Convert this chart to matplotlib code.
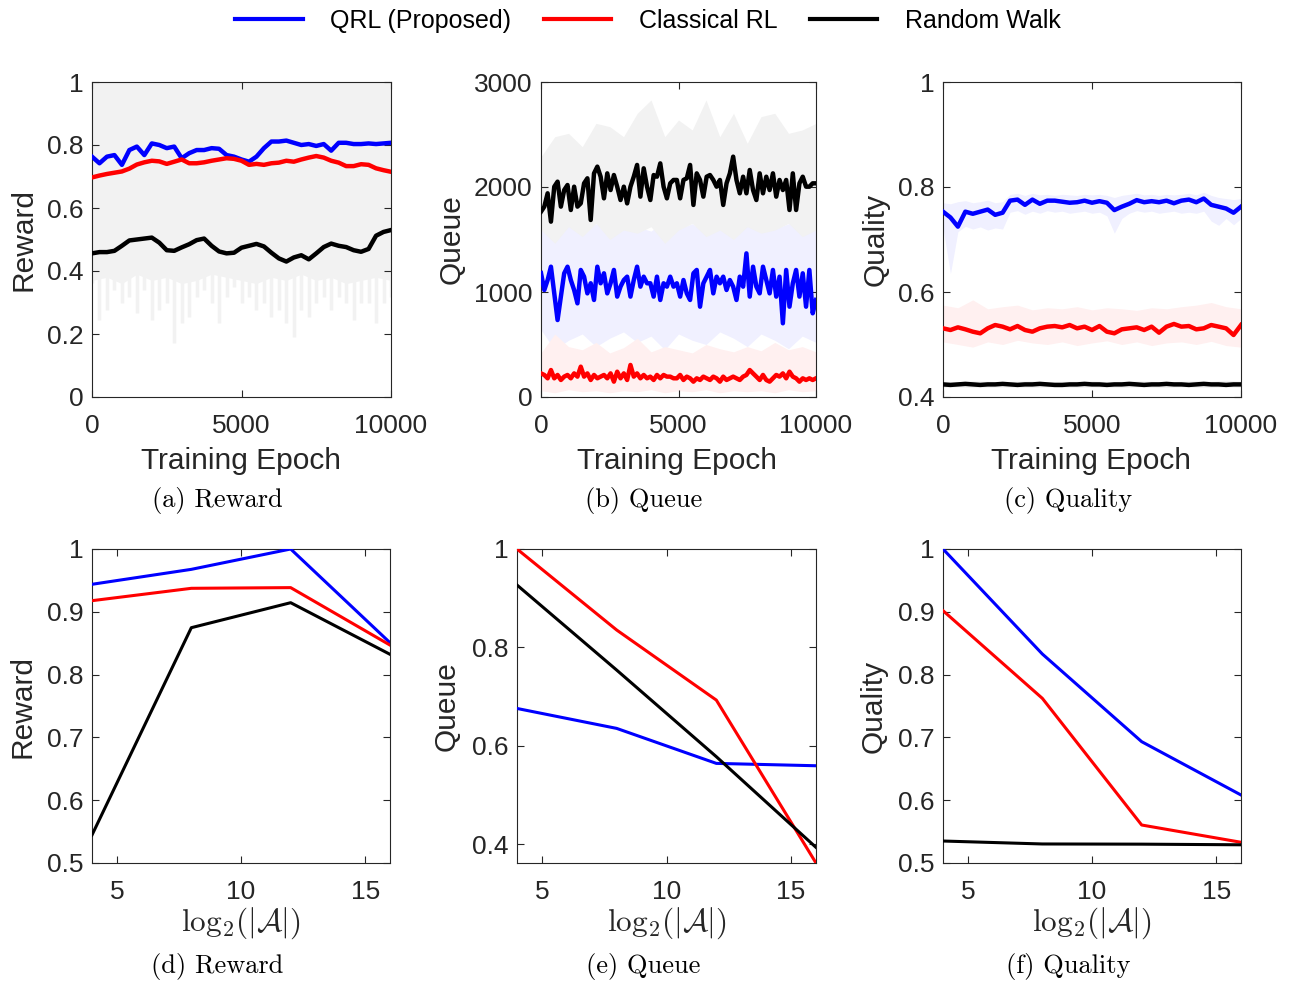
import numpy as np
import matplotlib
matplotlib.use('Agg')
import matplotlib.pyplot as plt
from matplotlib.lines import Line2D

plt.rcParams['font.family'] = ['Liberation Sans', 'DejaVu Sans']
plt.rcParams['mathtext.fontset'] = 'cm'

# ---------------- data ----------------
series_names = ['QRL (Proposed)', 'Classical RL', 'Random Walk']
series_colors = ['#0000ff', '#ff0000', '#000000']
raw_colors = ['#f0f0ff', '#fff0f0', '#f2f2f2']

epoch_max = 10000

# (a) Reward vs training epoch (smoothed curves, 41 samples)
reward_qrl = [0.763, 0.742, 0.763, 0.768, 0.737, 0.784, 0.795, 0.768, 0.805, 0.800,
              0.790, 0.795, 0.758, 0.774, 0.784, 0.784, 0.790, 0.788, 0.768, 0.763,
              0.754, 0.747, 0.763, 0.790, 0.811, 0.811, 0.814, 0.807, 0.800, 0.803,
              0.797, 0.803, 0.782, 0.807, 0.807, 0.803, 0.803, 0.805, 0.803, 0.805, 0.807]
reward_crl = [0.697, 0.703, 0.708, 0.712, 0.716, 0.725, 0.738, 0.745, 0.750, 0.748,
              0.740, 0.747, 0.754, 0.742, 0.742, 0.745, 0.750, 0.754, 0.758, 0.756,
              0.750, 0.737, 0.740, 0.737, 0.742, 0.744, 0.750, 0.747, 0.754, 0.760,
              0.765, 0.760, 0.750, 0.744, 0.733, 0.733, 0.739, 0.737, 0.726, 0.720, 0.715]
reward_rw = [0.456, 0.460, 0.460, 0.464, 0.480, 0.497, 0.500, 0.503, 0.506, 0.490,
             0.466, 0.464, 0.475, 0.485, 0.498, 0.503, 0.480, 0.462, 0.456, 0.458,
             0.474, 0.480, 0.486, 0.478, 0.458, 0.440, 0.430, 0.443, 0.450, 0.437,
             0.456, 0.476, 0.487, 0.480, 0.476, 0.466, 0.461, 0.470, 0.512, 0.524, 0.530]
# raw (unsmoothed) reward cloud: lower edge of the dense part and the downward spikes
reward_raw_top = [1.0] * 21
reward_raw_base = [0.37, 0.38, 0.36, 0.39, 0.37, 0.38, 0.36, 0.37, 0.39, 0.38, 0.37,
                   0.36, 0.38, 0.37, 0.39, 0.37, 0.38, 0.36, 0.37, 0.38, 0.37]
reward_raw_spikes = [0.361, 0.244, 0.276, 0.340, 0.297, 0.319, 0.266, 0.340, 0.244, 0.276,
                     0.297, 0.170, 0.234, 0.255, 0.319, 0.340, 0.297, 0.234, 0.319, 0.350,
                     0.297, 0.319, 0.276, 0.297, 0.255, 0.276, 0.234, 0.192, 0.276, 0.255,
                     0.297, 0.319, 0.276, 0.319, 0.297, 0.244, 0.297, 0.297, 0.234, 0.297, 0.319]

# (b) Queue vs training epoch (smoothed curves, 84 samples)
queue_qrl = [1180, 1019, 1114, 1241, 987, 733, 956, 1178, 1241, 1114, 1019, 892, 1210, 1146,
             987, 1083, 924, 1241, 1083, 1178, 987, 1083, 1210, 956, 1051, 1114, 1146, 956,
             1114, 1241, 1051, 1146, 1083, 1083, 956, 1146, 924, 1083, 1051, 1146, 1051,
             1083, 956, 1114, 987, 924, 1178, 1210, 860, 1083, 1146, 1210, 987, 1146, 1083,
             1146, 1019, 1114, 1051, 924, 1146, 1051, 1368, 956, 1241, 1051, 987, 1241, 1114,
             987, 1210, 956, 1146, 702, 1210, 860, 1083, 1210, 956, 1178, 860, 1210, 797, 924]
queue_crl = [225, 210, 178, 257, 178, 210, 162, 194, 210, 178, 225, 194, 289, 194, 225, 162,
             210, 178, 194, 210, 178, 225, 146, 241, 178, 225, 162, 305, 194, 225, 178, 210,
             178, 194, 162, 210, 178, 210, 194, 194, 178,
             178, 210, 162, 194, 178, 146, 178, 162, 194, 178, 162, 194, 178, 146, 194, 162,
             178, 194, 178, 162, 194, 210, 257, 225, 194, 162, 210, 162, 146, 178, 210, 194,
             225, 178, 241, 194, 178, 146, 178, 162, 178, 162, 178]
queue_rw = [1765, 1813, 1940, 1670, 2003, 2051, 1813, 1971, 2019, 1781, 2003, 1813, 1844, 2035,
            2083, 1686, 2130, 2194, 2098, 1892, 2130, 1971, 2114, 2003, 1876, 2003, 1844, 2003,
            2098, 2210, 1908, 2178, 2003, 1876, 2114, 2098, 2225, 2003, 1892, 2035, 2067,
            2067, 1892, 2067, 2083, 2210, 1829, 2130, 2067, 1908, 2098, 2114, 2067, 2003, 2067,
            1829, 2035, 2130, 2289, 2067, 1940, 2098, 1940, 2162, 1971, 1876, 2130, 1940, 2098,
            1971, 2130, 1908, 2067, 1971, 2067, 1781, 2130, 1781, 2035, 2098, 2003, 2003, 2035, 2035]
# raw clouds (upper / lower edges, 21 samples)
queue_raw_qrl_hi = [1650, 1600, 1700, 1560, 1650, 1600, 1700, 1620, 1580, 1680, 1600,
                    1650, 1560, 1700, 1620, 1650, 1750, 1600, 1650, 1700, 1600]
queue_raw_qrl_lo = [640, 450, 540, 600, 480, 560, 620, 520, 580, 450, 600,
                    540, 500, 620, 560, 480, 600, 540, 460, 580, 520]
queue_raw_crl_hi = [420, 600, 480, 450, 520, 420, 470, 560, 430, 480, 450,
                    420, 500, 460, 430, 480, 440, 520, 450, 480, 430]
queue_raw_crl_lo = [60, 40, 70, 50, 60, 40, 60, 50, 70, 40, 60,
                    50, 70, 40, 60, 50, 60, 40, 70, 50, 60]
queue_raw_rw_hi = [2289, 2479, 2511, 2384, 2606, 2575, 2479, 2702, 2829, 2479, 2638,
                   2543, 2829, 2479, 2702, 2416, 2670, 2702, 2511, 2543, 2606]
queue_raw_rw_lo = [1590, 1464, 1622, 1527, 1654, 1500, 1590, 1560, 1622, 1464, 1590,
                   1654, 1527, 1590, 1500, 1622, 1560, 1590, 1654, 1527, 1590]

# (c) Quality vs training epoch (smoothed curves, 41 samples)
quality_qrl = [0.753, 0.742, 0.7245, 0.753, 0.749, 0.753, 0.757, 0.747, 0.751, 0.774,
               0.776, 0.766, 0.776, 0.768, 0.774, 0.774, 0.772, 0.770, 0.771, 0.774,
               0.770, 0.773, 0.770, 0.756, 0.7625, 0.768, 0.775, 0.771, 0.773, 0.771,
               0.774, 0.769, 0.774, 0.776, 0.771, 0.778, 0.766, 0.7625, 0.759, 0.751, 0.7625]
quality_crl = [0.5308, 0.5276, 0.5327, 0.5289, 0.5244, 0.5213, 0.5308, 0.5371, 0.5340, 0.5289,
               0.5352, 0.5276, 0.5244, 0.5308, 0.5340, 0.5352, 0.5327, 0.5371, 0.5308, 0.5340,
               0.5276, 0.5352, 0.5244, 0.5213, 0.5289, 0.5308, 0.5327, 0.5276, 0.5340, 0.5225,
               0.5340, 0.5391, 0.5340, 0.5352, 0.5289, 0.5308, 0.5371, 0.5340, 0.5308, 0.5181, 0.5371]
quality_rw = [0.424, 0.423, 0.424, 0.425, 0.424, 0.423, 0.424, 0.424, 0.425, 0.424,
              0.423, 0.424, 0.424, 0.425, 0.424, 0.423, 0.423, 0.424, 0.424, 0.425,
              0.424, 0.424, 0.423, 0.424, 0.424, 0.425, 0.424, 0.423, 0.424, 0.424,
              0.425, 0.424, 0.424, 0.423, 0.424, 0.425, 0.424, 0.424, 0.423, 0.424, 0.424]
quality_raw_qrl_hi = [0.770, 0.768, 0.772, 0.774, 0.770, 0.772, 0.775, 0.770, 0.772, 0.786,
                      0.788, 0.784, 0.788, 0.785, 0.786, 0.784, 0.786, 0.785, 0.784, 0.786,
                      0.785, 0.786, 0.784, 0.780, 0.784, 0.786, 0.788, 0.785, 0.786, 0.784,
                      0.786, 0.785, 0.786, 0.788, 0.785, 0.790, 0.784, 0.780, 0.778, 0.776, 0.778]
quality_raw_qrl_lo = [0.722, 0.635, 0.715, 0.725, 0.720, 0.724, 0.718, 0.722, 0.720, 0.752,
                      0.755, 0.748, 0.754, 0.750, 0.755, 0.752, 0.754, 0.750, 0.752, 0.754,
                      0.750, 0.752, 0.745, 0.712, 0.740, 0.750, 0.755, 0.752, 0.754, 0.750,
                      0.752, 0.754, 0.750, 0.752, 0.750, 0.754, 0.735, 0.727, 0.740, 0.728, 0.740]
quality_raw_crl_hi = [0.575, 0.570, 0.585, 0.568, 0.572, 0.575, 0.566, 0.570, 0.568, 0.572, 0.566,
                      0.570, 0.568, 0.565, 0.570, 0.568, 0.572, 0.575, 0.580, 0.572, 0.568]
quality_raw_crl_lo = [0.505, 0.500, 0.495, 0.505, 0.500, 0.508, 0.503, 0.500, 0.505, 0.498, 0.503,
                      0.507, 0.500, 0.505, 0.498, 0.503, 0.505, 0.500, 0.506, 0.498, 0.495]
quality_raw_rw_hi = [0.430, 0.429, 0.431, 0.430, 0.429, 0.430, 0.431, 0.429, 0.430, 0.430, 0.431,
                     0.429, 0.430, 0.431, 0.430, 0.429, 0.430, 0.431, 0.430, 0.432, 0.430]
quality_raw_rw_lo = [0.418, 0.419, 0.418, 0.418, 0.419, 0.418, 0.418, 0.419, 0.418, 0.418, 0.419,
                     0.418, 0.418, 0.419, 0.418, 0.418, 0.419, 0.418, 0.418, 0.419, 0.418]

# (d)-(f) vs log2(|A|)
log_actions = [4, 8, 12, 16]
reward_vs_a = {'qrl': [0.9438, 0.9676, 1.0, 0.8508],
               'crl': [0.9177, 0.9374, 0.9385, 0.847],
               'rw': [0.5446, 0.8747, 0.9145, 0.8323]}
queue_vs_a = {'qrl': [0.676, 0.6355, 0.5644, 0.5596],
              'crl': [1.0, 0.8354, 0.693, 0.362],
              'rw': [0.9268, 0.754, 0.578, 0.3937]}
quality_vs_a = {'qrl': [1.0, 0.8328, 0.6932, 0.6083],
                'crl': [0.9018, 0.7622, 0.5605, 0.533],
                'rw': [0.535, 0.5303, 0.530, 0.529]}

epoch_ticks = [0, 5000, 10000]
epoch_ticklabels = ['0', '5000', '10000']
action_ticks = [5, 10, 15]
action_ticklabels = ['5', '10', '15']

captions = ['(a) Reward', '(b) Queue', '(c) Quality', '(d) Reward', '(e) Queue', '(f) Quality']

# ---------------- figure ----------------
W, H = 1293, 983
fig = plt.figure(figsize=(W / 100, H / 100), dpi=100)
AX_COL = '#262626'
LAB_FS = 21.5


def px_axes(left, right, top, bottom):
    return fig.add_axes([left / W, 1 - bottom / H, (right - left) / W, (bottom - top) / H])


def style(ax, xt, xtl, yt, ytl):
    ax.set_xticks(xt)
    ax.set_xticklabels(xtl)
    ax.set_yticks(yt)
    ax.set_yticklabels(ytl)
    ax.tick_params(direction='in', length=5, width=0.8, top=True, right=True,
                   labelsize=19, colors=AX_COL)
    ax.tick_params(axis='x', pad=12)
    ax.tick_params(axis='y', pad=6)
    for s in ax.spines.values():
        s.set_color(AX_COL)
        s.set_linewidth(0.8)


def ylab(ax, text, x):
    ax.set_ylabel(text, fontsize=LAB_FS, color=AX_COL)
    ax.yaxis.set_label_coords(x, 0.5)


TOP_LW = 3.2
BOT_LW = 2.2

# (a)
ax = px_axes(92, 391, 82, 397)
e41 = np.linspace(0, epoch_max, len(reward_qrl))
e21 = np.linspace(0, epoch_max, len(reward_raw_base))
ax.vlines(e41, reward_raw_spikes, 0.45, color=raw_colors[2], lw=2.5, zorder=1)
ax.fill_between(e21, reward_raw_base, reward_raw_top, color=raw_colors[2], lw=0, zorder=1)
for ys, c in zip([reward_qrl, reward_crl, reward_rw], series_colors):
    ax.plot(e41, ys, color=c, lw=TOP_LW, zorder=3)
ax.set_xlim(0, epoch_max)
ax.set_ylim(0, 1)
style(ax, epoch_ticks, epoch_ticklabels, [0, 0.2, 0.4, 0.6, 0.8, 1.0],
      ['0', '0.2', '0.4', '0.6', '0.8', '1'])
ylab(ax, 'Reward', -0.182)
ax.set_xlabel('Training Epoch', fontsize=LAB_FS, color=AX_COL)
ax.xaxis.set_label_coords(0.498, -0.16)

# (b)
ax = px_axes(541, 816, 82, 397)
e84 = np.linspace(0, epoch_max, len(queue_qrl))
e21 = np.linspace(0, epoch_max, len(queue_raw_qrl_hi))
ax.fill_between(e21, queue_raw_qrl_lo, queue_raw_qrl_hi, color=raw_colors[0], lw=0, zorder=1)
ax.fill_between(e21, queue_raw_crl_lo, queue_raw_crl_hi, color=raw_colors[1], lw=0, zorder=1)
ax.fill_between(e21, queue_raw_rw_lo, queue_raw_rw_hi, color=raw_colors[2], lw=0, zorder=1)
for ys, c in zip([queue_qrl, queue_crl, queue_rw], series_colors):
    ax.plot(e84, ys, color=c, lw=TOP_LW, zorder=3)
ax.set_xlim(0, epoch_max)
ax.set_ylim(0, 3000)
style(ax, epoch_ticks, epoch_ticklabels, [0, 1000, 2000, 3000], ['0', '1000', '2000', '3000'])
ylab(ax, 'Queue', -0.275)
ax.set_xlabel('Training Epoch', fontsize=LAB_FS, color=AX_COL)
ax.xaxis.set_label_coords(0.496, -0.16)

# (c)
ax = px_axes(943, 1241, 82, 397)
e41 = np.linspace(0, epoch_max, len(quality_qrl))
e21 = np.linspace(0, epoch_max, len(quality_raw_crl_hi))
ax.fill_between(e41, quality_raw_qrl_lo, quality_raw_qrl_hi, color=raw_colors[0], lw=0, zorder=1)
ax.fill_between(e21, quality_raw_crl_lo, quality_raw_crl_hi, color=raw_colors[1], lw=0, zorder=1)
ax.fill_between(e21, quality_raw_rw_lo, quality_raw_rw_hi, color=raw_colors[2], lw=0, zorder=1)
for ys, c in zip([quality_qrl, quality_crl, quality_rw], series_colors):
    ax.plot(e41, ys, color=c, lw=TOP_LW, zorder=3)
ax.set_xlim(0, epoch_max)
ax.set_ylim(0.4, 1)
style(ax, epoch_ticks, epoch_ticklabels, [0.4, 0.6, 0.8, 1.0], ['0.4', '0.6', '0.8', '1'])
ylab(ax, 'Quality', -0.18)
ax.set_xlabel('Training Epoch', fontsize=LAB_FS, color=AX_COL)
ax.xaxis.set_label_coords(0.498, -0.16)

# bottom row
bottom_specs = [
    ((92, 390), reward_vs_a, (0.5, 1.0), [0.5, 0.6, 0.7, 0.8, 0.9, 1.0],
     ['0.5', '0.6', '0.7', '0.8', '0.9', '1'], 'Reward', -0.186),
    ((517, 816), queue_vs_a, (0.362, 1.0), [0.4, 0.6, 0.8, 1.0],
     ['0.4', '0.6', '0.8', '1'], 'Queue', -0.188),
    ((943, 1241), quality_vs_a, (0.5, 1.0), [0.5, 0.6, 0.7, 0.8, 0.9, 1.0],
     ['0.5', '0.6', '0.7', '0.8', '0.9', '1'], 'Quality', -0.187),
]
for (l, r), d, ylim, yt, ytl, lab, lx in bottom_specs:
    ax = px_axes(l, r, 549, 863)
    for key, c in zip(['qrl', 'crl', 'rw'], series_colors):
        ax.plot(log_actions, d[key], color=c, lw=BOT_LW, zorder=3)
    ax.set_xlim(4, 16)
    ax.set_ylim(*ylim)
    style(ax, action_ticks, action_ticklabels, yt, ytl)
    ylab(ax, lab, lx)
    ax.set_xlabel(r'$\mathrm{log}_2(|\mathcal{A}|)$', fontsize=22.5, color=AX_COL)
    ax.xaxis.set_label_coords(0.5, -0.135)

# captions
cap_pos = [(217.5, 500), (644, 500), (1068, 500), (217.5, 967), (643, 967), (1068, 967)]
for t, (cx, cy) in zip(captions, cap_pos):
    fig.text(cx / W, 1 - cy / H, t, ha='center', va='center', fontsize=19,
             family='cmr10', color='#000000')

# legend
handles = [Line2D([], [], color=c, lw=3) for c in series_colors]
fig.legend(handles, series_names, loc='center', bbox_to_anchor=(0.501, 0.979), ncol=3,
           frameon=False, fontsize=18, handlelength=2.7, handletextpad=1.1,
           columnspacing=1.3)

fig.savefig('out.png', dpi=100)
